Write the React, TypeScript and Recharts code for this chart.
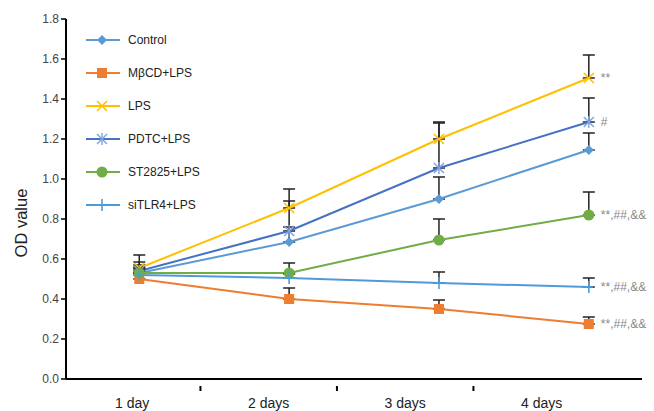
import React from 'react';
import { LineChart, Line, XAxis, YAxis, ErrorBar, LabelList } from 'recharts';

const days = ['1 day', '2 days', '3 days', '4 days'];
const dayPos = [1, 2, 3, 4];
const yTicks = [0, 0.2, 0.4, 0.6, 0.8, 1.0, 1.2, 1.4, 1.6, 1.8];

const control = [0.53, 0.685, 0.9, 1.145];
const controlErr = [0.04, 0.075, 0.11, 0.085];
const mbcd = [0.5, 0.4, 0.35, 0.275];
const mbcdErr = [0.03, 0.055, 0.045, 0.035];
const lps = [0.555, 0.855, 1.2, 1.505];
const lpsErr = [0.065, 0.095, 0.085, 0.115];
const pdtc = [0.54, 0.74, 1.055, 1.285];
const pdtcErr = [0.045, 0.15, 0.225, 0.12];
const st2825 = [0.53, 0.53, 0.695, 0.82];
const st2825Err = [0.03, 0.05, 0.105, 0.115];
const sitlr4 = [0.52, 0.505, 0.48, 0.46];
const sitlr4Err = [0.03, 0.02, 0.055, 0.045];

const notes: Record<string, string> = {
  control: '',
  mbcd: '**,##,&&',
  lps: '**',
  pdtc: '#',
  st2825: '**,##,&&',
  sitlr4: '**,##,&&',
};

type Series = { key: string; name: string; color: string; marker: string; values: number[]; errs: number[] };
const series: Series[] = [
  { key: 'control', name: 'Control', color: '#5B9BD5', marker: 'diamond', values: control, errs: controlErr },
  { key: 'mbcd', name: 'M\u03B2CD+LPS', color: '#ED7D31', marker: 'square', values: mbcd, errs: mbcdErr },
  { key: 'lps', name: 'LPS', color: '#FFC000', marker: 'x', values: lps, errs: lpsErr },
  { key: 'pdtc', name: 'PDTC+LPS', color: '#4472C4', marker: 'star', values: pdtc, errs: pdtcErr },
  { key: 'st2825', name: 'ST2825+LPS', color: '#70AD47', marker: 'circle', values: st2825, errs: st2825Err },
  { key: 'sitlr4', name: 'siTLR4+LPS', color: '#4E9BDB', marker: 'plus', values: sitlr4, errs: sitlr4Err },
];

const data = dayPos.map((x, i) => {
  const row: any = { x, day: days[i] };
  series.forEach((s) => {
    row[s.key] = s.values[i];
    row[s.key + '_err'] = [0, s.errs[i]];
    row[s.key + '_note'] = i === dayPos.length - 1 ? notes[s.key] : '';
  });
  return row;
});

const FONT = '"Liberation Sans", Arial, Helvetica, sans-serif';

function Marker({ type, cx, cy, color }: { type: string; cx: number; cy: number; color: string }) {
  switch (type) {
    case 'diamond':
      return <polygon points={`${cx},${cy - 5} ${cx + 5},${cy} ${cx},${cy + 5} ${cx - 5},${cy}`} fill={color} />;
    case 'square':
      return <rect x={cx - 5} y={cy - 5} width={10} height={10} fill={color} />;
    case 'x':
      return (
        <g stroke={color} strokeWidth={1.6}>
          <line x1={cx - 5} y1={cy - 5} x2={cx + 5} y2={cy + 5} />
          <line x1={cx - 5} y1={cy + 5} x2={cx + 5} y2={cy - 5} />
        </g>
      );
    case 'star':
      return (
        <g stroke="#7FA3E0" strokeWidth={1.4}>
          <line x1={cx - 5} y1={cy - 5} x2={cx + 5} y2={cy + 5} />
          <line x1={cx - 5} y1={cy + 5} x2={cx + 5} y2={cy - 5} />
          <line x1={cx} y1={cy - 6} x2={cx} y2={cy + 6} />
        </g>
      );
    case 'circle':
      return <circle cx={cx} cy={cy} r={5.5} fill={color} />;
    case 'plus':
      return (
        <g stroke={color} strokeWidth={1.6}>
          <line x1={cx} y1={cy - 6} x2={cx} y2={cy + 6} />
          <line x1={cx - 4} y1={cy} x2={cx + 4} y2={cy} />
        </g>
      );
    default:
      return null;
  }
}

const makeDot = (s: Series) => (props: any) => {
  const { cx, cy, index } = props;
  if (cx == null || cy == null) return <g key={index} />;
  return (
    <g key={`${s.key}-dot-${index}`}>
      <Marker type={s.marker} cx={cx} cy={cy} color={s.color} />
    </g>
  );
};

const makeNote = (s: Series) => (props: any) => {
  const { x, y, value, index } = props;
  if (!value) return null;
  return (
    <text key={`${s.key}-note-${index}`} x={x + 12} y={y + 4} fontSize={12} fill="#888" fontFamily={FONT}>
      {value}
    </text>
  );
};

function LegendBox() {
  return (
    <svg width={160} height={200} style={{ position: 'absolute', left: 86, top: 30 }}>
      {series.map((s, i) => {
        const cy = 10 + i * 33;
        return (
          <g key={s.key}>
            <line x1={0} y1={cy} x2={34} y2={cy} stroke={s.color} strokeWidth={2} />
            <Marker type={s.marker} cx={16} cy={cy} color={s.color} />
            <text x={42} y={cy + 4} fontSize={12} fill="#222" fontFamily={FONT}>
              {s.name}
            </text>
          </g>
        );
      })}
    </svg>
  );
}

function DayTick(props: any) {
  const { x, y, payload } = props;
  const v = payload.value;
  if (Number.isInteger(v)) {
    return (
      <text x={x} y={y + 21} textAnchor="middle" fontSize={14} fill="#222" fontFamily={FONT}>
        {days[v - 1]}
      </text>
    );
  }
  return <line x1={x} y1={y - 1} x2={x} y2={y + 4} stroke="#000" strokeWidth={2} />;
}

export default function App() {
  return (
    <div style={{ position: 'absolute', left: 0, top: 0, width: 654, height: 411, background: '#fff' }}>
      <LineChart width={654} height={411} data={data} margin={{ top: 19, right: 12, left: 0, bottom: 0 }}>
        <XAxis xAxisId="pts" type="number" dataKey="x" domain={[0.511, 4.355]} hide allowDataOverflow />
        <XAxis
          xAxisId="lab"
          type="number"
          dataKey="x"
          domain={[0.515, 4.735]}
          ticks={[1, 1.5, 2, 2.5, 3, 3.5, 4]}
          interval={0}
          tick={<DayTick />}
          tickLine={false}
          axisLine={{ stroke: '#000', strokeWidth: 2 }}
          height={32}
          allowDataOverflow
        />
        <YAxis
          type="number"
          domain={[0, 1.8]}
          ticks={yTicks}
          interval={0}
          width={66}
          tickFormatter={(v: number) => v.toFixed(1)}
          tick={{ fontSize: 12, fill: '#444', fontFamily: FONT }}
          tickSize={5}
          tickMargin={2}
          tickLine={{ stroke: '#000', strokeWidth: 1.5 }}
          axisLine={{ stroke: '#000', strokeWidth: 2 }}
          allowDataOverflow
          label={{
            content: (p: any) => {
              const vb = p.viewBox || { x: 0, y: 19, width: 66, height: 360 };
              const cx = vb.x + 27;
              const cy = vb.y + vb.height / 2 + 24;
              return (
                <text x={cx} y={cy} transform={`rotate(-90 ${cx} ${cy})`} textAnchor="middle" fontSize={16.5} fill="#222" fontFamily={FONT}>
                  OD value
                </text>
              );
            },
          }}
        />
        {series.map((s) => (
          <Line
            key={s.key}
            xAxisId="pts"
            dataKey={s.key}
            name={s.name}
            stroke={s.color}
            strokeWidth={2}
            dot={makeDot(s)}
            activeDot={false}
            isAnimationActive={false}
          >
            <ErrorBar dataKey={s.key + '_err'} width={6} stroke="#222" strokeWidth={1.5} direction="y" />
            <LabelList dataKey={s.key + '_note'} content={makeNote(s)} />
          </Line>
        ))}
      </LineChart>
      <LegendBox />
    </div>
  );
}
